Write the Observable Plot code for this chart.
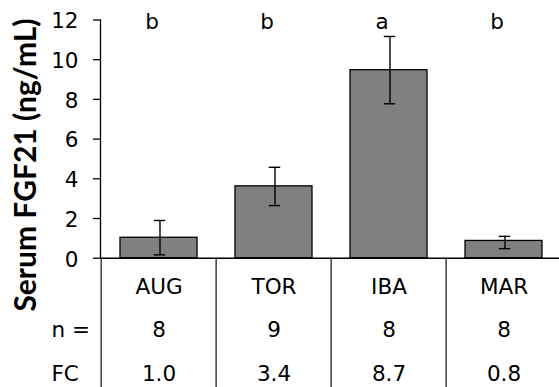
<!DOCTYPE html>
<html>
<head>
<meta charset="utf-8">
<script src="https://cdn.jsdelivr.net/npm/d3@7"></script>
<script src="https://cdn.jsdelivr.net/npm/@observablehq/plot@0.6"></script>
<style>
  html, body { margin: 0; padding: 0; background: white; }
  #chart svg { display: block; }
</style>
</head>
<body>
<div id="chart"></div>
<script>
const categories = ["AUG", "TOR", "IBA", "MAR"];
const means = [1.03, 3.62, 9.47, 0.87];
const errLow = [0.17, 2.65, 7.78, 0.48];
const errHigh = [1.90, 4.58, 11.17, 1.10];
const letters = ["b", "b", "a", "b"];
const nValues = [8, 9, 8, 8];
const fcValues = [1.0, 3.4, 8.7, 0.8];
const yTicks = [0, 2, 4, 6, 8, 10, 12];
const rowLabels = ["", "n =", "FC"];
const yLabel = "Serum FGF21 (ng/mL)";

const data = categories.map((c, i) => ({
  cat: c, mean: means[i], lo: errLow[i], hi: errHigh[i],
  letter: letters[i],
  table: `${c}\n${nValues[i]}\n${fcValues[i].toFixed(1)}`
}));

const W = 559, H = 387, ML = 100, MR = -4, MT = 19.5, MB = 129.3;
const step = (W - ML - MR) / categories.length;
const padInner = 0.33;
const bw = step * (1 - padInner);
const capW = 12;
const FS = 21.5;
const LH = 2.014;

const chart = Plot.plot({
  width: W,
  height: H,
  marginLeft: ML,
  marginRight: MR,
  marginTop: MT,
  marginBottom: MB,
  style: { fontFamily: "DejaVu Sans", fontSize: FS + "px", color: "black", background: "white" },
  x: { domain: categories, paddingInner: padInner, paddingOuter: padInner / 2, axis: null },
  y: { domain: [0, 12], axis: null },
  marks: [
    Plot.barY(data, { x: "cat", y: "mean", fill: "#808080", stroke: "black", strokeWidth: 1.3 }),
    Plot.ruleX(data, { x: "cat", y1: "lo", y2: "hi", stroke: "black", strokeWidth: 1.4, dx: 1 }),
    Plot.tickY(data, { x: "cat", y: "lo", stroke: "black", strokeWidth: 1.4, dx: 1, insetLeft: (bw - capW) / 2, insetRight: (bw - capW) / 2 }),
    Plot.tickY(data, { x: "cat", y: "hi", stroke: "black", strokeWidth: 1.4, dx: 1, insetLeft: (bw - capW) / 2, insetRight: (bw - capW) / 2 }),
    Plot.ruleY([0], { stroke: "black", strokeWidth: 1.5 }),
    Plot.frame({ anchor: "left", stroke: "black", strokeWidth: 1.3 }),
    Plot.axisY({ ticks: yTicks, tickSize: 7, text: null, label: null, stroke: "black", strokeWidth: 1.3, strokeOpacity: 1 }),
    Plot.axisY({ ticks: yTicks, tickSize: 0, tickPadding: 22, tickFormat: d => d, label: null, fontSize: FS, dy: 1.5 }),
    Plot.ruleX(data, { x: "cat", dx: -step / 2, insetTop: 257.7 - MT, insetBottom: -(H - 257.7), stroke: "#222", strokeWidth: 1.3 }),
    Plot.text(data, { x: "cat", text: "letter", frameAnchor: "top", lineAnchor: "middle", dx: -7, dy: 2 }),
    Plot.text(data, { x: "cat", text: "table", frameAnchor: "bottom", lineAnchor: "top", lineHeight: LH, dy: 5.2 }),
    Plot.text([rowLabels.join("\n")], { frameAnchor: "bottom-left", textAnchor: "start", lineAnchor: "top", lineHeight: LH, dx: -49, dy: 5.2 }),
    Plot.text([yLabel], { frameAnchor: "left", textAnchor: "middle", rotate: -90, dx: -74, dy: 25.9, fontFamily: "Lato", fontWeight: "bold", fontSize: 30 })
  ]
});
document.getElementById("chart").appendChild(chart);
</script>
</body>
</html>
